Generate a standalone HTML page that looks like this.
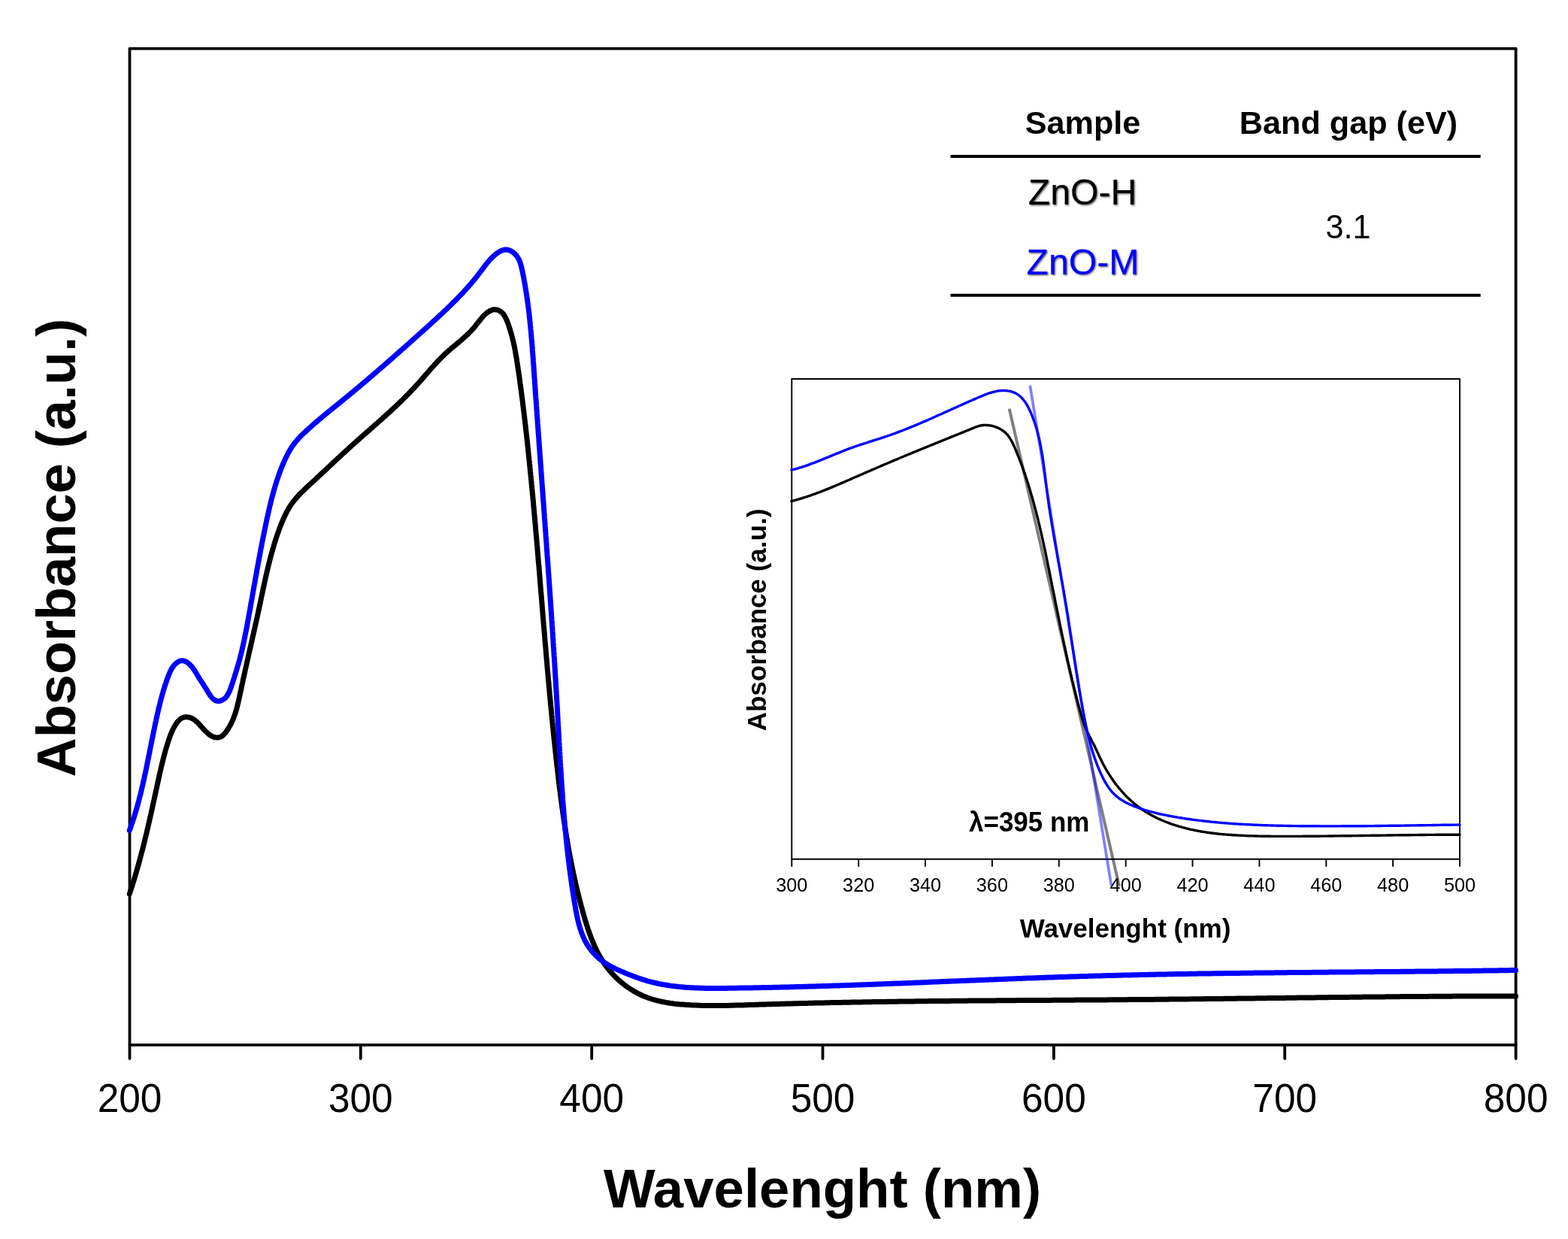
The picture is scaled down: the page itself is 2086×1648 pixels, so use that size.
<!DOCTYPE html>
<html lang="en"><head><meta charset="utf-8"><title>UV-Vis absorbance of ZnO-H and ZnO-M</title>
<style>
html,body{margin:0;padding:0;background:#fff;}
body{width:2086px;height:1648px;overflow:hidden;}
svg{display:block;}
text{font-family:"Liberation Sans", Arial, Helvetica, sans-serif;fill:#000;}
.b{font-weight:bold;}
.c{fill:none;stroke-linejoin:round;stroke-linecap:round;}
</style></head><body>
<svg width="2086" height="1648" viewBox="0 0 2086 1648">
<defs><filter id="sh" x="-10%" y="-20%" width="130%" height="150%"><feDropShadow dx="1.2" dy="1.2" stdDeviation="0.8" flood-color="#000" flood-opacity="0.7"/></filter></defs>
<rect width="2086" height="1648" fill="#fff"/>
<g fill="none" stroke="#000" stroke-width="3.8">
<path d="M172.5 64.6H2016.6V1389.8H172.5Z" stroke-linejoin="round"/>
<g stroke-linecap="round">
<path d="M172.5 1389.8V1408"/>
<path d="M479.8 1389.8V1408"/>
<path d="M787.2 1389.8V1408"/>
<path d="M1094.5 1389.8V1408"/>
<path d="M1401.9 1389.8V1408"/>
<path d="M1709.2 1389.8V1408"/>
<path d="M2016.6 1389.8V1408"/>
</g></g>
<g class="c" stroke-width="7">
<path d="M172.3 1189L173.1 1186.6L173.9 1184.2L174.6 1181.8L175.4 1179.5L176.2 1177.1L176.9 1174.7L177.7 1172.3L178.4 1169.9L179.1 1167.5L179.8 1165.1L180.5 1162.7L181.3 1160.3L181.9 1157.9L182.6 1155.5L183.3 1153.1L184 1150.7L184.7 1148.3L185.3 1145.9L186 1143.5L186.6 1141L187.3 1138.6L187.9 1136.2L188.5 1133.8L189.2 1131.4L189.8 1129L190.4 1126.6L191 1124.1L191.6 1121.7L192.2 1119.3L192.8 1116.9L193.4 1114.4L194 1112L194.6 1109.6L195.2 1107.2L195.7 1104.7L196.3 1102.3L196.9 1099.9L197.4 1097.4L198 1095L198.6 1092.6L199.1 1090.1L199.7 1087.7L200.2 1085.2L200.8 1082.8L201.3 1080.4L201.9 1077.9L202.4 1075.5L202.9 1073L203.5 1070.6L204 1068.1L204.5 1065.7L205.1 1063.2L205.6 1060.8L206.1 1058.3L206.7 1055.9L207.2 1053.4L207.7 1051L208.3 1048.5L208.8 1046.1L209.3 1043.6L209.9 1041.1L210.4 1038.7L210.9 1036.2L211.5 1033.8L212 1031.3L212.5 1028.9L213.1 1026.4L213.7 1024L214.2 1021.5L214.8 1019.1L215.4 1016.6L216 1014.2L216.6 1011.8L217.2 1009.3L217.8 1006.9L218.5 1004.5L219.1 1002.1L219.8 999.7L220.4 997.3L221.1 994.9L221.9 992.5L222.6 990.2L223.3 987.8L224.1 985.4L224.9 983.1L225.7 980.8L226.5 978.4L227.4 976.1L228.4 973.8L229.4 971.5L230.5 969.3L231.7 967L233 964.8L234.4 962.6L236 960.4L237.7 958.5L239.5 956.7L241.5 955.4L243.6 954.4L245.9 953.8L248.2 953.7L250.6 953.9L252.9 954.5L255.2 955.4L257.4 956.6L259.5 958.1L261.4 959.8L263.3 961.5L265.1 963.4L266.8 965.3L268.4 967.1L270 969L271.7 970.8L273.5 972.6L275.3 974.4L277.3 976.1L279.4 977.7L281.6 979.1L283.9 980.1L286.3 980.8L288.6 981.1L291 981L293.1 980.3L295.2 979.2L297 977.7L298.7 975.9L300.4 973.9L301.9 971.8L303.3 969.7L304.6 967.5L305.9 965.4L307.1 963.1L308.2 960.9L309.2 958.6L310.2 956.3L311.1 954L312 951.6L312.8 949.3L313.6 946.9L314.3 944.5L315 942.1L315.6 939.6L316.2 937.2L316.8 934.8L317.4 932.3L318 929.8L318.5 927.4L319 924.9L319.5 922.4L320.1 919.9L320.6 917.5L321.1 915L321.6 912.5L322.2 910.1L322.7 907.6L323.2 905.2L323.7 902.7L324.3 900.3L324.8 897.8L325.4 895.4L325.9 892.9L326.4 890.5L327 888L327.5 885.6L328.1 883.2L328.6 880.7L329.2 878.3L329.7 875.9L330.3 873.4L330.8 871L331.4 868.6L331.9 866.1L332.5 863.7L333 861.3L333.6 858.9L334.1 856.4L334.7 854L335.2 851.6L335.8 849.1L336.3 846.7L336.9 844.3L337.4 841.9L338 839.4L338.5 837L339.1 834.6L339.6 832.1L340.1 829.7L340.7 827.3L341.2 824.9L341.8 822.4L342.3 820L342.8 817.6L343.4 815.1L343.9 812.7L344.4 810.2L344.9 807.8L345.5 805.4L346 802.9L346.5 800.5L347 798L347.5 795.6L348 793.1L348.6 790.7L349.1 788.2L349.6 785.8L350.1 783.3L350.6 780.9L351.2 778.4L351.7 776L352.2 773.5L352.8 771.1L353.3 768.6L353.9 766.2L354.4 763.7L355 761.3L355.6 758.9L356.1 756.4L356.7 754L357.3 751.5L357.9 749.1L358.5 746.7L359.1 744.3L359.8 741.8L360.4 739.4L361.1 737L361.7 734.6L362.4 732.2L363.1 729.8L363.8 727.4L364.5 725L365.2 722.6L366 720.2L366.7 717.8L367.5 715.4L368.3 713L369.1 710.7L369.9 708.3L370.8 705.9L371.6 703.6L372.5 701.2L373.4 698.9L374.3 696.6L375.3 694.2L376.3 691.9L377.3 689.6L378.3 687.3L379.4 685.1L380.5 682.9L381.6 680.6L382.8 678.5L384 676.3L385.3 674.2L386.7 672.1L388.1 670.1L389.5 668.1L391 666.1L392.6 664.2L394.2 662.3L395.9 660.4L397.6 658.5L399.3 656.7L401.1 654.9L402.9 653.2L404.7 651.4L406.5 649.7L408.4 647.9L410.2 646.2L412.1 644.5L413.9 642.8L415.8 641.1L417.7 639.4L419.5 637.7L421.4 635.9L423.2 634.2L425.1 632.5L426.9 630.8L428.7 629.1L430.6 627.4L432.4 625.7L434.2 624L436 622.2L437.9 620.5L439.7 618.8L441.5 617.1L443.3 615.4L445.2 613.7L447 612L448.8 610.3L450.6 608.6L452.5 606.9L454.3 605.2L456.1 603.5L458 601.8L459.8 600.2L461.6 598.5L463.5 596.8L465.3 595.1L467.1 593.4L469 591.8L470.8 590.1L472.7 588.5L474.5 586.8L476.4 585.1L478.3 583.5L480.1 581.8L482 580.2L483.9 578.5L485.7 576.9L487.6 575.3L489.5 573.6L491.4 572L493.2 570.3L495.1 568.7L497 567L498.8 565.4L500.7 563.7L502.6 562.1L504.4 560.4L506.3 558.8L508.2 557.1L510 555.4L511.9 553.8L513.7 552.1L515.6 550.4L517.4 548.8L519.3 547.1L521.1 545.4L522.9 543.7L524.7 542L526.6 540.3L528.4 538.6L530.2 536.8L532 535.1L533.8 533.4L535.6 531.6L537.3 529.9L539.1 528.1L540.9 526.4L542.6 524.6L544.4 522.8L546.1 521L547.8 519.2L549.5 517.4L551.3 515.5L553 513.7L554.6 511.8L556.3 510L558 508.1L559.6 506.2L561.3 504.3L563 502.4L564.6 500.5L566.2 498.7L567.9 496.8L569.5 494.9L571.2 493L572.8 491.1L574.5 489.2L576.2 487.4L577.8 485.5L579.5 483.7L581.2 481.8L582.9 480L584.6 478.2L586.4 476.5L588.1 474.7L589.9 473L591.6 471.3L593.4 469.6L595.3 467.9L597.1 466.3L599 464.7L600.8 463.1L602.7 461.5L604.6 459.9L606.5 458.4L608.4 456.8L610.3 455.2L612.2 453.6L614 452L615.9 450.4L617.8 448.7L619.6 447.1L621.4 445.4L623.2 443.7L625 441.9L626.8 440.1L628.5 438.2L630.2 436.3L631.8 434.4L633.4 432.3L635 430.3L636.6 428.2L638.2 426.2L639.8 424.2L641.5 422.2L643.2 420.3L645 418.5L646.8 416.9L648.8 415.3L650.9 414L653.1 412.9L655.3 412L657.7 411.7L660 411.8L662.3 412.4L664.5 413.4L666.6 414.7L668.4 416.3L669.9 418.1L671.3 420.2L672.5 422.4L673.6 424.7L674.6 427.1L675.5 429.5L676.4 431.9L677.2 434.4L678 436.8L678.8 439.2L679.5 441.7L680.2 444.1L680.9 446.5L681.5 449L682.1 451.4L682.7 453.8L683.3 456.3L683.8 458.7L684.3 461.1L684.8 463.6L685.3 466L685.7 468.5L686.1 470.9L686.6 473.4L687 475.8L687.4 478.2L687.8 480.7L688.1 483.1L688.5 485.6L688.9 488L689.2 490.5L689.6 493L690 495.4L690.3 497.9L690.7 500.3L691 502.8L691.4 505.3L691.7 507.7L692 510.2L692.4 512.7L692.7 515.1L693 517.6L693.4 520.1L693.7 522.6L694 525L694.3 527.5L694.7 530L695 532.5L695.3 534.9L695.6 537.4L695.9 539.9L696.2 542.4L696.5 544.9L696.8 547.4L697.1 549.8L697.4 552.3L697.7 554.8L698 557.3L698.3 559.8L698.6 562.3L698.9 564.8L699.2 567.3L699.4 569.8L699.7 572.2L700 574.7L700.3 577.2L700.6 579.7L700.8 582.2L701.1 584.7L701.4 587.2L701.7 589.7L701.9 592.2L702.2 594.7L702.5 597.2L702.7 599.7L703 602.2L703.2 604.7L703.5 607.2L703.8 609.7L704 612.1L704.3 614.6L704.5 617.1L704.8 619.6L705 622.1L705.3 624.6L705.5 627.1L705.8 629.6L706 632.1L706.3 634.6L706.5 637.1L706.8 639.6L707 642.1L707.2 644.6L707.5 647.1L707.7 649.6L708 652.1L708.2 654.6L708.4 657L708.7 659.5L708.9 662L709.1 664.5L709.4 667L709.6 669.5L709.8 672L710 674.5L710.3 677L710.5 679.5L710.7 682L710.9 684.5L711.2 687L711.4 689.5L711.6 692L711.8 694.5L712.1 697L712.3 699.5L712.5 702L712.7 704.4L712.9 706.9L713.1 709.4L713.4 711.9L713.6 714.4L713.8 716.9L714 719.4L714.2 721.9L714.4 724.4L714.7 726.9L714.9 729.4L715.1 731.9L715.3 734.4L715.5 736.9L715.7 739.4L715.9 741.9L716.1 744.4L716.3 746.9L716.5 749.3L716.8 751.8L717 754.3L717.2 756.8L717.4 759.3L717.6 761.8L717.8 764.3L718 766.8L718.2 769.3L718.4 771.8L718.6 774.3L718.8 776.8L719 779.3L719.2 781.8L719.4 784.3L719.6 786.8L719.8 789.2L720.1 791.7L720.3 794.2L720.5 796.7L720.7 799.2L720.9 801.7L721.1 804.2L721.3 806.7L721.5 809.2L721.7 811.7L721.9 814.2L722.1 816.7L722.3 819.2L722.5 821.7L722.7 824.1L722.9 826.6L723.1 829.1L723.3 831.6L723.6 834.1L723.8 836.6L724 839.1L724.2 841.6L724.4 844.1L724.6 846.6L724.8 849.1L725 851.6L725.2 854L725.4 856.5L725.6 859L725.9 861.5L726.1 864L726.3 866.5L726.5 869L726.7 871.5L726.9 874L727.1 876.5L727.4 879L727.6 881.5L727.8 883.9L728 886.4L728.2 888.9L728.4 891.4L728.7 893.9L728.9 896.4L729.1 898.9L729.3 901.4L729.5 903.9L729.8 906.4L730 908.8L730.2 911.3L730.4 913.8L730.7 916.3L730.9 918.8L731.1 921.3L731.3 923.8L731.6 926.3L731.8 928.8L732 931.2L732.3 933.7L732.5 936.2L732.7 938.7L733 941.2L733.2 943.7L733.5 946.2L733.7 948.7L733.9 951.1L734.2 953.6L734.4 956.1L734.7 958.6L734.9 961.1L735.2 963.6L735.4 966.1L735.7 968.6L735.9 971L736.2 973.5L736.4 976L736.7 978.5L736.9 981L737.2 983.5L737.4 986L737.7 988.4L738 990.9L738.2 993.4L738.5 995.9L738.8 998.4L739 1000.9L739.3 1003.3L739.6 1005.8L739.8 1008.3L740.1 1010.8L740.4 1013.3L740.7 1015.8L740.9 1018.3L741.2 1020.7L741.5 1023.2L741.8 1025.7L742.1 1028.2L742.4 1030.7L742.6 1033.1L742.9 1035.6L743.2 1038.1L743.5 1040.6L743.8 1043.1L744.1 1045.6L744.4 1048L744.8 1050.5L745.1 1053L745.4 1055.5L745.7 1058L746 1060.4L746.3 1062.9L746.7 1065.4L747 1067.9L747.3 1070.3L747.7 1072.8L748 1075.3L748.4 1077.8L748.7 1080.2L749.1 1082.7L749.4 1085.2L749.8 1087.7L750.1 1090.1L750.5 1092.6L750.9 1095.1L751.3 1097.5L751.6 1100L752 1102.5L752.4 1105L752.8 1107.4L753.2 1109.9L753.6 1112.4L754 1114.8L754.4 1117.3L754.9 1119.8L755.3 1122.2L755.7 1124.7L756.1 1127.1L756.6 1129.6L757 1132.1L757.5 1134.5L757.9 1137L758.4 1139.4L758.9 1141.9L759.3 1144.3L759.8 1146.8L760.3 1149.3L760.8 1151.7L761.3 1154.2L761.8 1156.6L762.3 1159.1L762.8 1161.5L763.4 1164L763.9 1166.4L764.4 1168.8L765 1171.3L765.5 1173.7L766.1 1176.2L766.6 1178.6L767.2 1181.1L767.8 1183.5L768.4 1185.9L769 1188.4L769.6 1190.8L770.2 1193.2L770.8 1195.7L771.4 1198.1L772.1 1200.5L772.7 1203L773.3 1205.4L774 1207.8L774.7 1210.3L775.3 1212.7L776 1215.1L776.7 1217.5L777.4 1219.9L778.1 1222.4L778.8 1224.8L779.6 1227.2L780.3 1229.6L781.1 1232L781.8 1234.4L782.6 1236.8L783.4 1239.1L784.3 1241.5L785.1 1243.8L786 1246.2L786.9 1248.5L787.8 1250.8L788.8 1253.2L789.7 1255.4L790.7 1257.7L791.8 1260L792.8 1262.2L793.9 1264.5L795 1266.7L796.2 1268.9L797.4 1271L798.6 1273.2L799.9 1275.3L801.2 1277.4L802.5 1279.5L803.9 1281.6L805.3 1283.6L806.8 1285.6L808.3 1287.6L809.8 1289.6L811.4 1291.5L813.1 1293.4L814.8 1295.3L816.5 1297.1L818.2 1298.9L820 1300.7L821.9 1302.5L823.7 1304.2L825.7 1305.8L827.6 1307.5L829.6 1309L831.6 1310.6L833.6 1312.1L835.7 1313.5L837.8 1315L839.9 1316.3L842 1317.6L844.2 1318.9L846.4 1320.1L848.6 1321.3L850.8 1322.4L853.1 1323.5L855.3 1324.5L857.6 1325.4L859.9 1326.3L862.2 1327.2L864.6 1328L866.9 1328.8L869.3 1329.5L871.6 1330.2L874 1330.8L876.4 1331.4L878.8 1331.9L881.2 1332.5L883.7 1332.9L886.1 1333.4L888.5 1333.8L891 1334.2L893.4 1334.5L895.9 1334.9L898.4 1335.2L900.9 1335.4L903.4 1335.7L905.8 1335.9L908.3 1336.1L910.8 1336.3L913.3 1336.5L915.8 1336.6L918.3 1336.8L920.8 1336.9L923.3 1337L925.8 1337.1L928.3 1337.2L930.8 1337.3L933.3 1337.4L935.8 1337.4L938.3 1337.5L940.8 1337.5L943.3 1337.5L945.8 1337.5L948.3 1337.6L950.8 1337.6L953.3 1337.6L955.8 1337.5L958.3 1337.5L960.8 1337.5L963.3 1337.5L965.9 1337.4L968.4 1337.4L970.9 1337.3L973.4 1337.3L975.9 1337.2L978.4 1337.1L980.9 1337.1L983.4 1337L985.9 1336.9L988.4 1336.9L990.9 1336.8L993.4 1336.7L995.9 1336.6L998.4 1336.5L1000.9 1336.5L1003.4 1336.4L1005.9 1336.3L1008.4 1336.2L1010.9 1336.1L1013.4 1336.1L1015.9 1336L1018.4 1335.9L1020.9 1335.8L1023.4 1335.7L1025.9 1335.7L1028.4 1335.6L1030.9 1335.5L1033.4 1335.4L1035.9 1335.4L1038.4 1335.3L1040.9 1335.2L1043.4 1335.2L1045.9 1335.1L1048.4 1335L1050.9 1335L1053.4 1334.9L1055.9 1334.8L1058.4 1334.8L1060.9 1334.7L1063.4 1334.6L1065.9 1334.6L1068.4 1334.5L1070.9 1334.4L1073.4 1334.4L1075.9 1334.3L1078.4 1334.3L1080.9 1334.2L1083.4 1334.1L1085.9 1334.1L1088.4 1334L1090.9 1334L1093.4 1333.9L1095.9 1333.9L1098.4 1333.8L1100.9 1333.8L1103.4 1333.7L1105.9 1333.6L1108.4 1333.6L1110.9 1333.5L1113.4 1333.5L1115.9 1333.4L1118.5 1333.4L1121 1333.3L1123.5 1333.3L1126 1333.2L1128.5 1333.2L1131 1333.2L1133.5 1333.1L1136 1333.1L1138.5 1333L1141 1333L1143.5 1332.9L1146 1332.9L1148.5 1332.8L1151 1332.8L1153.5 1332.8L1156 1332.7L1158.5 1332.7L1161 1332.6L1163.5 1332.6L1166 1332.6L1168.5 1332.5L1171 1332.5L1173.5 1332.4L1176 1332.4L1178.5 1332.4L1181 1332.3L1183.5 1332.3L1186 1332.3L1188.5 1332.2L1191 1332.2L1193.5 1332.2L1196 1332.1L1198.5 1332.1L1201 1332.1L1203.5 1332L1206 1332L1208.5 1332L1211 1331.9L1213.5 1331.9L1216 1331.9L1218.5 1331.8L1221 1331.8L1223.5 1331.8L1226 1331.7L1228.5 1331.7L1231 1331.7L1233.5 1331.7L1236 1331.6L1238.5 1331.6L1241 1331.6L1243.5 1331.6L1246 1331.5L1248.5 1331.5L1251 1331.5L1253.5 1331.5L1256 1331.4L1258.5 1331.4L1261 1331.4L1263.5 1331.4L1266 1331.3L1268.5 1331.3L1271 1331.3L1273.5 1331.3L1276 1331.2L1278.5 1331.2L1281 1331.2L1283.5 1331.2L1286 1331.2L1288.6 1331.1L1291.1 1331.1L1293.6 1331.1L1296.1 1331.1L1298.6 1331.1L1301.1 1331L1303.6 1331L1306.1 1331L1308.6 1331L1311.1 1331L1313.6 1330.9L1316.1 1330.9L1318.6 1330.9L1321.1 1330.9L1323.6 1330.9L1326.1 1330.8L1328.6 1330.8L1331.1 1330.8L1333.6 1330.8L1336.1 1330.8L1338.6 1330.8L1341.1 1330.7L1343.6 1330.7L1346.1 1330.7L1348.6 1330.7L1351.1 1330.7L1353.6 1330.6L1356.1 1330.6L1358.6 1330.6L1361.1 1330.6L1363.6 1330.6L1366.1 1330.6L1368.6 1330.5L1371.1 1330.5L1373.6 1330.5L1376.1 1330.5L1378.6 1330.5L1381.1 1330.5L1383.6 1330.5L1386.1 1330.4L1388.6 1330.4L1391.1 1330.4L1393.6 1330.4L1396.1 1330.4L1398.6 1330.4L1401.1 1330.3L1403.6 1330.3L1406.1 1330.3L1408.6 1330.3L1411.1 1330.3L1413.6 1330.3L1416.1 1330.2L1418.6 1330.2L1421.1 1330.2L1423.6 1330.2L1426.1 1330.2L1428.6 1330.2L1431.1 1330.1L1433.6 1330.1L1436.1 1330.1L1438.6 1330.1L1441.1 1330.1L1443.6 1330.1L1446.1 1330L1448.6 1330L1451.1 1330L1453.6 1330L1456.1 1330L1458.6 1330L1461.1 1329.9L1463.7 1329.9L1466.2 1329.9L1468.7 1329.9L1471.2 1329.9L1473.7 1329.9L1476.2 1329.8L1478.7 1329.8L1481.2 1329.8L1483.7 1329.8L1486.2 1329.8L1488.7 1329.7L1491.2 1329.7L1493.7 1329.7L1496.2 1329.7L1498.7 1329.7L1501.2 1329.6L1503.7 1329.6L1506.2 1329.6L1508.7 1329.6L1511.2 1329.6L1513.7 1329.5L1516.2 1329.5L1518.7 1329.5L1521.2 1329.5L1523.7 1329.4L1526.2 1329.4L1528.7 1329.4L1531.2 1329.4L1533.7 1329.4L1536.2 1329.3L1538.7 1329.3L1541.2 1329.3L1543.7 1329.3L1546.2 1329.2L1548.7 1329.2L1551.2 1329.2L1553.7 1329.2L1556.2 1329.1L1558.7 1329.1L1561.2 1329.1L1563.7 1329.1L1566.2 1329L1568.7 1329L1571.2 1329L1573.7 1329L1576.2 1328.9L1578.7 1328.9L1581.2 1328.9L1583.7 1328.8L1586.2 1328.8L1588.7 1328.8L1591.2 1328.8L1593.7 1328.7L1596.2 1328.7L1598.7 1328.7L1601.2 1328.7L1603.7 1328.6L1606.2 1328.6L1608.7 1328.6L1611.2 1328.5L1613.7 1328.5L1616.2 1328.5L1618.7 1328.5L1621.2 1328.4L1623.7 1328.4L1626.3 1328.4L1628.8 1328.3L1631.3 1328.3L1633.8 1328.3L1636.3 1328.2L1638.8 1328.2L1641.3 1328.2L1643.8 1328.2L1646.3 1328.1L1648.8 1328.1L1651.3 1328.1L1653.8 1328L1656.3 1328L1658.8 1328L1661.3 1327.9L1663.8 1327.9L1666.3 1327.9L1668.8 1327.9L1671.3 1327.8L1673.8 1327.8L1676.3 1327.8L1678.8 1327.7L1681.3 1327.7L1683.8 1327.7L1686.3 1327.6L1688.8 1327.6L1691.3 1327.6L1693.8 1327.5L1696.3 1327.5L1698.8 1327.5L1701.3 1327.5L1703.8 1327.4L1706.3 1327.4L1708.8 1327.4L1711.3 1327.3L1713.8 1327.3L1716.3 1327.3L1718.8 1327.2L1721.3 1327.2L1723.8 1327.2L1726.3 1327.1L1728.8 1327.1L1731.3 1327.1L1733.8 1327.1L1736.3 1327L1738.8 1327L1741.3 1327L1743.8 1326.9L1746.3 1326.9L1748.8 1326.9L1751.3 1326.8L1753.8 1326.8L1756.3 1326.8L1758.8 1326.8L1761.3 1326.7L1763.8 1326.7L1766.3 1326.7L1768.8 1326.6L1771.3 1326.6L1773.8 1326.6L1776.3 1326.5L1778.8 1326.5L1781.4 1326.5L1783.9 1326.5L1786.4 1326.4L1788.9 1326.4L1791.4 1326.4L1793.9 1326.4L1796.4 1326.3L1798.9 1326.3L1801.4 1326.3L1803.9 1326.2L1806.4 1326.2L1808.9 1326.2L1811.4 1326.2L1813.9 1326.1L1816.4 1326.1L1818.9 1326.1L1821.4 1326.1L1823.9 1326L1826.4 1326L1828.9 1326L1831.4 1326L1833.9 1325.9L1836.4 1325.9L1838.9 1325.9L1841.4 1325.9L1843.9 1325.8L1846.4 1325.8L1848.9 1325.8L1851.4 1325.8L1853.9 1325.7L1856.4 1325.7L1858.9 1325.7L1861.4 1325.7L1863.9 1325.6L1866.4 1325.6L1868.9 1325.6L1871.4 1325.6L1873.9 1325.6L1876.4 1325.5L1878.9 1325.5L1881.4 1325.5L1883.9 1325.5L1886.4 1325.5L1888.9 1325.4L1891.4 1325.4L1893.9 1325.4L1896.4 1325.4L1898.9 1325.4L1901.4 1325.3L1903.9 1325.3L1906.4 1325.3L1908.9 1325.3L1911.4 1325.3L1913.9 1325.3L1916.4 1325.2L1918.9 1325.2L1921.4 1325.2L1923.9 1325.2L1926.4 1325.2L1928.9 1325.2L1931.4 1325.2L1933.9 1325.1L1936.5 1325.1L1939 1325.1L1941.5 1325.1L1944 1325.1L1946.5 1325.1L1949 1325.1L1951.5 1325L1954 1325L1956.5 1325L1959 1325L1961.5 1325L1964 1325L1966.5 1325L1969 1325L1971.5 1325L1974 1325L1976.5 1325L1979 1325L1981.5 1324.9L1984 1324.9L1986.5 1324.9L1989 1324.9L1991.5 1324.9L1994 1324.9L1996.5 1324.9L1999 1324.9L2001.5 1324.9L2004 1324.9L2006.5 1324.9L2009 1324.9L2011.5 1324.9L2014 1324.9L2016.5 1324.9" stroke="#000"/>
<path d="M172.3 1104.5L173.2 1102.1L174 1099.8L174.8 1097.4L175.6 1095.1L176.4 1092.7L177.2 1090.3L178 1087.9L178.7 1085.6L179.5 1083.2L180.2 1080.8L180.9 1078.4L181.6 1076L182.3 1073.6L183 1071.2L183.6 1068.8L184.3 1066.4L184.9 1064L185.5 1061.5L186.2 1059.1L186.8 1056.7L187.4 1054.3L188 1051.8L188.5 1049.4L189.1 1047L189.7 1044.5L190.2 1042.1L190.8 1039.7L191.3 1037.2L191.9 1034.8L192.4 1032.3L192.9 1029.9L193.5 1027.5L194 1025L194.5 1022.6L195 1020.1L195.5 1017.7L196 1015.2L196.5 1012.7L197 1010.3L197.5 1007.8L198 1005.4L198.5 1002.9L199 1000.5L199.4 998L199.9 995.6L200.4 993.1L200.9 990.6L201.4 988.2L201.9 985.7L202.4 983.3L202.9 980.8L203.4 978.4L203.9 975.9L204.4 973.5L204.9 971L205.4 968.6L205.9 966.1L206.4 963.7L206.9 961.2L207.5 958.8L208 956.3L208.5 953.9L209.1 951.4L209.6 949L210.2 946.6L210.7 944.1L211.3 941.7L211.9 939.3L212.5 936.9L213.1 934.4L213.7 932L214.3 929.6L215 927.2L215.7 924.8L216.3 922.4L217 920L217.7 917.6L218.5 915.2L219.2 912.8L220 910.4L220.8 908.1L221.6 905.7L222.4 903.3L223.3 901L224.2 898.6L225.1 896.3L226.1 894L227.2 891.7L228.3 889.5L229.7 887.4L231.2 885.4L232.9 883.5L234.8 881.8L237 880.3L239.3 879.2L241.6 878.7L243.9 878.8L246.2 879.5L248.4 880.6L250.5 882.1L252.4 883.8L254.1 885.6L255.8 887.5L257.3 889.6L258.7 891.6L260.1 893.7L261.4 895.9L262.6 898.1L263.9 900.2L265.2 902.3L266.5 904.4L267.9 906.5L269.2 908.6L270.6 910.6L271.9 912.7L273.3 914.8L274.6 916.9L275.9 919.1L277.2 921.3L278.6 923.5L280 925.6L281.6 927.6L283.4 929.4L285.4 931L287.6 932.1L290 932.5L292.3 932.4L294.6 931.7L296.7 930.7L298.6 929.4L300.3 927.7L301.8 925.8L303.1 923.7L304.3 921.5L305.4 919.1L306.4 916.6L307.3 914L308.2 911.5L309.1 908.9L309.9 906.4L310.7 904L311.5 901.6L312.2 899.2L313 896.9L313.7 894.5L314.4 892.2L315.1 889.9L315.8 887.6L316.5 885.3L317.2 883L317.8 880.7L318.5 878.4L319.1 876L319.7 873.7L320.3 871.3L320.9 868.9L321.5 866.5L322 864.1L322.6 861.7L323.1 859.3L323.7 856.9L324.2 854.4L324.7 852L325.2 849.5L325.7 847.1L326.2 844.6L326.7 842.2L327.2 839.7L327.7 837.2L328.2 834.7L328.7 832.2L329.1 829.7L329.6 827.3L330 824.8L330.5 822.3L330.9 819.8L331.4 817.3L331.8 814.8L332.3 812.3L332.7 809.8L333.2 807.3L333.6 804.8L334 802.3L334.5 799.8L334.9 797.3L335.4 794.9L335.8 792.4L336.2 789.9L336.7 787.4L337.1 784.9L337.5 782.5L338 780L338.4 777.5L338.9 775.1L339.3 772.6L339.7 770.1L340.2 767.7L340.6 765.2L341.1 762.7L341.5 760.3L341.9 757.8L342.4 755.3L342.8 752.9L343.3 750.4L343.7 748L344.2 745.5L344.6 743.1L345.1 740.6L345.6 738.2L346 735.7L346.5 733.3L346.9 730.8L347.4 728.4L347.9 725.9L348.4 723.5L348.8 721L349.3 718.6L349.8 716.1L350.3 713.7L350.8 711.2L351.3 708.8L351.8 706.4L352.3 703.9L352.8 701.5L353.3 699L353.8 696.6L354.3 694.2L354.8 691.7L355.3 689.3L355.9 686.8L356.4 684.4L357 682L357.5 679.5L358.1 677.1L358.6 674.7L359.2 672.2L359.8 669.8L360.4 667.4L361 665L361.6 662.5L362.3 660.1L362.9 657.7L363.6 655.3L364.2 652.9L364.9 650.5L365.6 648.1L366.3 645.7L367.1 643.3L367.8 640.9L368.6 638.5L369.4 636.2L370.2 633.8L371 631.4L371.9 629.1L372.7 626.7L373.6 624.4L374.5 622L375.5 619.7L376.4 617.4L377.4 615.1L378.4 612.8L379.5 610.5L380.6 608.2L381.7 606L382.8 603.7L384 601.5L385.2 599.4L386.5 597.2L387.9 595.1L389.3 593.1L390.7 591.1L392.2 589.1L393.7 587.1L395.4 585.3L397 583.4L398.7 581.6L400.5 579.8L402.2 578.1L404 576.3L405.9 574.6L407.7 572.9L409.5 571.2L411.4 569.6L413.3 567.9L415.1 566.2L417 564.6L418.9 562.9L420.8 561.3L422.7 559.7L424.6 558L426.5 556.4L428.5 554.8L430.4 553.2L432.3 551.6L434.3 550L436.2 548.4L438.1 546.8L440.1 545.3L442 543.7L444 542.1L445.9 540.5L447.9 538.9L449.8 537.3L451.8 535.8L453.7 534.2L455.7 532.6L457.6 531L459.5 529.4L461.5 527.9L463.4 526.3L465.3 524.7L467.2 523.1L469.2 521.5L471.1 519.9L473 518.3L474.9 516.7L476.8 515.1L478.7 513.5L480.6 511.9L482.5 510.3L484.4 508.7L486.3 507.1L488.2 505.5L490.1 503.8L492 502.2L493.9 500.6L495.8 499L497.7 497.4L499.6 495.7L501.5 494.1L503.3 492.5L505.2 490.9L507.1 489.2L509 487.6L510.9 486L512.7 484.3L514.6 482.7L516.5 481.1L518.3 479.4L520.2 477.8L522.1 476.2L523.9 474.5L525.8 472.9L527.7 471.2L529.5 469.6L531.4 467.9L533.3 466.3L535.1 464.6L537 463L538.9 461.3L540.7 459.7L542.6 458L544.5 456.3L546.3 454.7L548.2 453L550 451.4L551.9 449.7L553.8 448L555.6 446.4L557.5 444.7L559.3 443L561.2 441.3L563.1 439.7L564.9 438L566.8 436.3L568.7 434.6L570.5 433L572.4 431.3L574.2 429.6L576.1 427.9L577.9 426.2L579.8 424.5L581.6 422.8L583.5 421.1L585.3 419.4L587.2 417.7L589 416L590.8 414.2L592.6 412.5L594.5 410.8L596.3 409L598.1 407.3L599.8 405.6L601.6 403.8L603.4 402L605.2 400.3L606.9 398.5L608.7 396.7L610.4 394.9L612.1 393.1L613.9 391.3L615.6 389.5L617.3 387.7L619 385.8L620.6 384L622.3 382.1L623.9 380.3L625.6 378.4L627.2 376.5L628.8 374.6L630.4 372.7L631.9 370.8L633.5 368.9L635 367L636.5 365L638 363L639.5 361.1L641 359.1L642.5 357.1L644 355.1L645.5 353.2L647 351.2L648.5 349.3L650.1 347.4L651.8 345.5L653.5 343.6L655.3 341.9L657.2 340.1L659.2 338.4L661.3 336.8L663.5 335.3L665.7 334L668 333L670.4 332.3L672.7 332L675 332.2L677.3 332.8L679.6 333.7L681.7 335L683.7 336.5L685.5 338.3L687.2 340.2L688.7 342.3L689.9 344.4L691 346.6L691.9 348.9L692.7 351.3L693.3 353.7L693.9 356.1L694.5 358.6L695 361.1L695.5 363.5L696 366L696.5 368.5L697 370.9L697.4 373.4L697.9 375.9L698.3 378.3L698.7 380.8L699.1 383.3L699.5 385.8L699.9 388.2L700.3 390.7L700.7 393.2L701.1 395.7L701.4 398.1L701.8 400.6L702.1 403.1L702.4 405.6L702.7 408L703.1 410.5L703.4 413L703.7 415.5L704 418L704.2 420.5L704.5 422.9L704.8 425.4L705 427.9L705.3 430.4L705.5 432.9L705.8 435.4L706 437.8L706.3 440.3L706.5 442.8L706.7 445.3L706.9 447.8L707.1 450.3L707.4 452.8L707.6 455.3L707.8 457.7L708 460.2L708.2 462.7L708.3 465.2L708.5 467.7L708.7 470.2L708.9 472.7L709.1 475.2L709.3 477.7L709.4 480.2L709.6 482.7L709.8 485.2L710 487.6L710.1 490.1L710.3 492.6L710.5 495.1L710.7 497.6L710.8 500.1L711 502.6L711.2 505.1L711.4 507.6L711.5 510.1L711.7 512.6L711.9 515.1L712 517.6L712.2 520.1L712.4 522.6L712.6 525L712.7 527.5L712.9 530L713.1 532.5L713.3 535L713.5 537.5L713.6 540L713.8 542.5L714 545L714.2 547.5L714.3 550L714.5 552.5L714.7 555L714.9 557.5L715.1 560L715.2 562.5L715.4 565L715.6 567.4L715.8 569.9L716 572.4L716.1 574.9L716.3 577.4L716.5 579.9L716.7 582.4L716.9 584.9L717 587.4L717.2 589.9L717.4 592.4L717.6 594.9L717.8 597.4L717.9 599.9L718.1 602.4L718.3 604.9L718.5 607.4L718.7 609.9L718.9 612.4L719 614.9L719.2 617.4L719.4 619.8L719.6 622.3L719.8 624.8L720 627.3L720.1 629.8L720.3 632.3L720.5 634.8L720.7 637.3L720.9 639.8L721 642.3L721.2 644.8L721.4 647.3L721.6 649.8L721.8 652.3L722 654.8L722.1 657.3L722.3 659.8L722.5 662.3L722.7 664.8L722.9 667.3L723.1 669.8L723.2 672.3L723.4 674.8L723.6 677.3L723.8 679.7L724 682.2L724.2 684.7L724.3 687.2L724.5 689.7L724.7 692.2L724.9 694.7L725.1 697.2L725.2 699.7L725.4 702.2L725.6 704.7L725.8 707.2L726 709.7L726.1 712.2L726.3 714.7L726.5 717.2L726.7 719.7L726.9 722.2L727.1 724.7L727.2 727.2L727.4 729.7L727.6 732.2L727.8 734.7L727.9 737.2L728.1 739.7L728.3 742.2L728.5 744.7L728.7 747.2L728.8 749.6L729 752.1L729.2 754.6L729.4 757.1L729.5 759.6L729.7 762.1L729.9 764.6L730.1 767.1L730.3 769.6L730.4 772.1L730.6 774.6L730.8 777.1L731 779.6L731.1 782.1L731.3 784.6L731.5 787.1L731.6 789.6L731.8 792.1L732 794.6L732.2 797.1L732.3 799.6L732.5 802.1L732.7 804.6L732.9 807.1L733 809.6L733.2 812.1L733.4 814.6L733.5 817.1L733.7 819.5L733.9 822L734 824.5L734.2 827L734.4 829.5L734.5 832L734.7 834.5L734.9 837L735 839.5L735.2 842L735.4 844.5L735.5 847L735.7 849.5L735.9 852L736 854.5L736.2 857L736.3 859.5L736.5 862L736.7 864.5L736.8 867L737 869.5L737.1 872L737.3 874.5L737.5 877L737.6 879.5L737.8 882L737.9 884.4L738.1 886.9L738.2 889.4L738.4 891.9L738.5 894.4L738.7 896.9L738.8 899.4L739 901.9L739.1 904.4L739.3 906.9L739.4 909.4L739.6 911.9L739.7 914.4L739.9 916.9L740 919.4L740.2 921.9L740.3 924.4L740.5 926.9L740.6 929.4L740.8 931.9L740.9 934.4L741.1 936.9L741.2 939.3L741.3 941.8L741.5 944.3L741.6 946.8L741.8 949.3L741.9 951.8L742 954.3L742.2 956.8L742.3 959.3L742.4 961.8L742.6 964.3L742.7 966.8L742.9 969.3L743 971.8L743.1 974.3L743.3 976.8L743.4 979.3L743.6 981.8L743.7 984.3L743.8 986.7L744 989.2L744.1 991.7L744.3 994.2L744.4 996.7L744.5 999.2L744.7 1001.7L744.8 1004.2L745 1006.7L745.1 1009.2L745.3 1011.7L745.4 1014.2L745.6 1016.7L745.7 1019.2L745.9 1021.7L746 1024.1L746.2 1026.6L746.3 1029.1L746.5 1031.6L746.7 1034.1L746.8 1036.6L747 1039.1L747.2 1041.6L747.3 1044.1L747.5 1046.6L747.7 1049.1L747.8 1051.6L748 1054.1L748.2 1056.5L748.4 1059L748.6 1061.5L748.7 1064L748.9 1066.5L749.1 1069L749.3 1071.5L749.5 1074L749.7 1076.5L749.9 1079L750.1 1081.5L750.3 1083.9L750.5 1086.4L750.7 1088.9L751 1091.4L751.2 1093.9L751.4 1096.4L751.6 1098.9L751.8 1101.4L752.1 1103.9L752.3 1106.3L752.6 1108.8L752.8 1111.3L753 1113.8L753.3 1116.3L753.5 1118.8L753.8 1121.3L754.1 1123.8L754.3 1126.3L754.6 1128.7L754.9 1131.2L755.1 1133.7L755.4 1136.2L755.7 1138.7L756 1141.2L756.3 1143.7L756.6 1146.2L756.9 1148.6L757.2 1151.1L757.5 1153.6L757.8 1156.1L758.2 1158.6L758.5 1161.1L758.8 1163.6L759.2 1166L759.5 1168.5L759.8 1171L760.2 1173.5L760.5 1176L760.9 1178.5L761.3 1181L761.7 1183.4L762 1185.9L762.4 1188.4L762.8 1190.9L763.2 1193.4L763.6 1195.9L764 1198.3L764.4 1200.8L764.8 1203.3L765.3 1205.8L765.7 1208.3L766.1 1210.7L766.6 1213.2L767.1 1215.7L767.5 1218.2L768.1 1220.6L768.6 1223.1L769.2 1225.5L769.8 1227.9L770.4 1230.3L771.1 1232.7L771.8 1235.1L772.6 1237.4L773.4 1239.8L774.2 1242.1L775.2 1244.4L776.1 1246.6L777.2 1248.9L778.2 1251.1L779.4 1253.3L780.6 1255.4L781.9 1257.6L783.3 1259.6L784.8 1261.7L786.3 1263.7L787.9 1265.7L789.5 1267.6L791.3 1269.4L793 1271.2L794.9 1273L796.7 1274.7L798.7 1276.3L800.6 1277.8L802.6 1279.3L804.7 1280.7L806.8 1282L808.9 1283.3L811.1 1284.6L813.2 1285.8L815.4 1286.9L817.7 1288L819.9 1289.1L822.2 1290.1L824.5 1291.1L826.8 1292.1L829.2 1293.1L831.5 1294.1L833.8 1295L836.2 1296L838.5 1296.9L840.9 1297.8L843.3 1298.7L845.6 1299.6L848 1300.5L850.4 1301.3L852.8 1302.1L855.2 1302.9L857.6 1303.6L860 1304.4L862.4 1305.1L864.8 1305.7L867.2 1306.3L869.7 1306.9L872.1 1307.5L874.5 1308L877 1308.6L879.4 1309L881.8 1309.5L884.3 1309.9L886.7 1310.3L889.2 1310.7L891.7 1311.1L894.1 1311.4L896.6 1311.7L899 1312L901.5 1312.3L904 1312.6L906.5 1312.8L908.9 1313L911.4 1313.2L913.9 1313.4L916.4 1313.5L918.9 1313.7L921.4 1313.8L923.8 1313.9L926.3 1314L928.8 1314.1L931.3 1314.2L933.8 1314.3L936.3 1314.3L938.8 1314.4L941.3 1314.4L943.8 1314.4L946.3 1314.4L948.8 1314.5L951.3 1314.5L953.8 1314.4L956.3 1314.4L958.8 1314.4L961.3 1314.4L963.8 1314.4L966.4 1314.4L968.9 1314.3L971.4 1314.3L973.9 1314.3L976.4 1314.2L978.9 1314.2L981.4 1314.2L983.9 1314.1L986.4 1314.1L988.9 1314.1L991.4 1314L993.9 1314L996.4 1314L998.9 1313.9L1001.4 1313.9L1003.9 1313.8L1006.4 1313.8L1008.9 1313.7L1011.4 1313.7L1013.9 1313.6L1016.4 1313.6L1018.9 1313.5L1021.5 1313.5L1024 1313.4L1026.5 1313.4L1029 1313.3L1031.5 1313.3L1034 1313.2L1036.5 1313.2L1039 1313.1L1041.5 1313L1044 1313L1046.5 1312.9L1049 1312.9L1051.5 1312.8L1054 1312.7L1056.5 1312.7L1059 1312.6L1061.5 1312.5L1064 1312.5L1066.5 1312.4L1069 1312.3L1071.5 1312.3L1074 1312.2L1076.5 1312.1L1079 1312.1L1081.5 1312L1084 1311.9L1086.5 1311.8L1089 1311.8L1091.5 1311.7L1094 1311.6L1096.5 1311.5L1099 1311.4L1101.5 1311.4L1104 1311.3L1106.5 1311.2L1109 1311.1L1111.5 1311L1114 1311L1116.5 1310.9L1119 1310.8L1121.5 1310.7L1124 1310.6L1126.5 1310.5L1129 1310.5L1131.5 1310.4L1134 1310.3L1136.5 1310.2L1139 1310.1L1141.5 1310L1144 1309.9L1146.5 1309.8L1149 1309.7L1151.5 1309.7L1154 1309.6L1156.5 1309.5L1159 1309.4L1161.5 1309.3L1164 1309.2L1166.5 1309.1L1169 1309L1171.5 1308.9L1174 1308.8L1176.5 1308.7L1179 1308.6L1181.5 1308.5L1184 1308.4L1186.5 1308.3L1189 1308.2L1191.5 1308.1L1194 1308L1196.5 1307.9L1199 1307.9L1201.5 1307.8L1204 1307.7L1206.5 1307.6L1209 1307.5L1211.5 1307.4L1214 1307.3L1216.5 1307.2L1219 1307.1L1221.5 1307L1224 1306.9L1226.5 1306.8L1229 1306.7L1231.5 1306.5L1234 1306.4L1236.5 1306.3L1239 1306.2L1241.5 1306.1L1243.9 1306L1246.4 1305.9L1248.9 1305.8L1251.4 1305.7L1253.9 1305.6L1256.4 1305.5L1258.9 1305.4L1261.4 1305.3L1263.9 1305.2L1266.4 1305.1L1268.9 1305L1271.4 1304.9L1273.9 1304.8L1276.4 1304.7L1278.9 1304.6L1281.4 1304.5L1283.9 1304.4L1286.4 1304.3L1288.9 1304.2L1291.4 1304.1L1293.9 1304L1296.4 1303.9L1298.9 1303.8L1301.4 1303.7L1303.9 1303.6L1306.4 1303.5L1308.9 1303.4L1311.4 1303.3L1313.9 1303.2L1316.4 1303.1L1318.9 1303L1321.4 1302.9L1323.9 1302.8L1326.4 1302.7L1328.9 1302.6L1331.4 1302.5L1333.9 1302.4L1336.4 1302.3L1338.9 1302.2L1341.4 1302.1L1343.9 1302L1346.4 1301.9L1348.9 1301.8L1351.4 1301.7L1353.8 1301.6L1356.3 1301.5L1358.8 1301.4L1361.3 1301.3L1363.8 1301.2L1366.3 1301.1L1368.8 1301.1L1371.3 1301L1373.8 1300.9L1376.3 1300.8L1378.8 1300.7L1381.3 1300.6L1383.8 1300.5L1386.3 1300.4L1388.8 1300.3L1391.3 1300.2L1393.8 1300.1L1396.3 1300.1L1398.8 1300L1401.3 1299.9L1403.8 1299.8L1406.3 1299.7L1408.8 1299.6L1411.3 1299.5L1413.8 1299.5L1416.3 1299.4L1418.8 1299.3L1421.3 1299.2L1423.8 1299.1L1426.3 1299L1428.8 1299L1431.3 1298.9L1433.8 1298.8L1436.3 1298.7L1438.8 1298.6L1441.3 1298.6L1443.8 1298.5L1446.3 1298.4L1448.8 1298.3L1451.3 1298.3L1453.8 1298.2L1456.3 1298.1L1458.8 1298.1L1461.3 1298L1463.8 1297.9L1466.3 1297.8L1468.8 1297.8L1471.3 1297.7L1473.8 1297.6L1476.3 1297.6L1478.8 1297.5L1481.3 1297.4L1483.8 1297.4L1486.3 1297.3L1488.8 1297.2L1491.3 1297.2L1493.8 1297.1L1496.3 1297.1L1498.8 1297L1501.3 1296.9L1503.8 1296.9L1506.3 1296.8L1508.8 1296.8L1511.3 1296.7L1513.8 1296.7L1516.3 1296.6L1518.8 1296.5L1521.3 1296.5L1523.8 1296.4L1526.3 1296.4L1528.8 1296.3L1531.3 1296.3L1533.8 1296.2L1536.3 1296.2L1538.8 1296.1L1541.3 1296.1L1543.8 1296L1546.3 1296L1548.8 1295.9L1551.3 1295.9L1553.8 1295.8L1556.3 1295.8L1558.8 1295.7L1561.3 1295.7L1563.8 1295.6L1566.3 1295.6L1568.8 1295.6L1571.3 1295.5L1573.8 1295.5L1576.3 1295.4L1578.8 1295.4L1581.3 1295.3L1583.8 1295.3L1586.3 1295.3L1588.8 1295.2L1591.3 1295.2L1593.8 1295.1L1596.3 1295.1L1598.8 1295.1L1601.3 1295L1603.8 1295L1606.3 1294.9L1608.8 1294.9L1611.3 1294.9L1613.8 1294.8L1616.3 1294.8L1618.8 1294.8L1621.3 1294.7L1623.8 1294.7L1626.3 1294.7L1628.8 1294.6L1631.3 1294.6L1633.8 1294.6L1636.3 1294.5L1638.8 1294.5L1641.3 1294.5L1643.8 1294.4L1646.3 1294.4L1648.8 1294.4L1651.3 1294.3L1653.8 1294.3L1656.4 1294.3L1658.9 1294.2L1661.4 1294.2L1663.9 1294.2L1666.4 1294.2L1668.9 1294.1L1671.4 1294.1L1673.9 1294.1L1676.4 1294L1678.9 1294L1681.4 1294L1683.9 1294L1686.4 1293.9L1688.9 1293.9L1691.4 1293.9L1693.9 1293.9L1696.4 1293.8L1698.9 1293.8L1701.4 1293.8L1703.9 1293.7L1706.4 1293.7L1708.9 1293.7L1711.4 1293.7L1713.9 1293.6L1716.4 1293.6L1718.9 1293.6L1721.4 1293.6L1723.9 1293.6L1726.4 1293.5L1728.9 1293.5L1731.4 1293.5L1733.9 1293.5L1736.4 1293.4L1738.9 1293.4L1741.4 1293.4L1743.9 1293.4L1746.4 1293.3L1748.9 1293.3L1751.4 1293.3L1753.9 1293.3L1756.4 1293.3L1758.9 1293.2L1761.4 1293.2L1763.9 1293.2L1766.4 1293.2L1768.9 1293.1L1771.4 1293.1L1773.9 1293.1L1776.4 1293.1L1778.9 1293.1L1781.4 1293L1783.9 1293L1786.4 1293L1789 1293L1791.5 1293L1794 1292.9L1796.5 1292.9L1799 1292.9L1801.5 1292.9L1804 1292.8L1806.5 1292.8L1809 1292.8L1811.5 1292.8L1814 1292.8L1816.5 1292.7L1819 1292.7L1821.5 1292.7L1824 1292.7L1826.5 1292.7L1829 1292.6L1831.5 1292.6L1834 1292.6L1836.5 1292.6L1839 1292.6L1841.5 1292.5L1844 1292.5L1846.5 1292.5L1849 1292.5L1851.5 1292.4L1854 1292.4L1856.5 1292.4L1859 1292.4L1861.5 1292.4L1864 1292.3L1866.5 1292.3L1869 1292.3L1871.5 1292.3L1874 1292.2L1876.5 1292.2L1879 1292.2L1881.5 1292.2L1884 1292.1L1886.5 1292.1L1889 1292.1L1891.5 1292.1L1894 1292L1896.5 1292L1899 1292L1901.5 1292L1904 1291.9L1906.5 1291.9L1909 1291.9L1911.5 1291.9L1914 1291.8L1916.5 1291.8L1919 1291.8L1921.5 1291.8L1924 1291.7L1926.5 1291.7L1929 1291.7L1931.5 1291.7L1934 1291.6L1936.5 1291.6L1939 1291.6L1941.5 1291.5L1944 1291.5L1946.5 1291.5L1949 1291.4L1951.5 1291.4L1954 1291.4L1956.5 1291.4L1959 1291.3L1961.5 1291.3L1964 1291.3L1966.5 1291.2L1969 1291.2L1971.5 1291.2L1974 1291.1L1976.5 1291.1L1979 1291.1L1981.5 1291L1984 1291L1986.5 1291L1989 1290.9L1991.5 1290.9L1994 1290.8L1996.5 1290.8L1999 1290.8L2001.5 1290.7L2004 1290.7L2006.5 1290.7L2009 1290.6L2011.5 1290.6L2014 1290.5L2016.5 1290.5" stroke="#0000ff"/>
</g>
<text transform="translate(172.5 1478.6) scale(1 1.04)" font-size="51.4" text-anchor="middle">200</text>
<text transform="translate(479.8 1478.6) scale(1 1.04)" font-size="51.4" text-anchor="middle">300</text>
<text transform="translate(787.2 1478.6) scale(1 1.04)" font-size="51.4" text-anchor="middle">400</text>
<text transform="translate(1094.5 1478.6) scale(1 1.04)" font-size="51.4" text-anchor="middle">500</text>
<text transform="translate(1401.9 1478.6) scale(1 1.04)" font-size="51.4" text-anchor="middle">600</text>
<text transform="translate(1709.2 1478.6) scale(1 1.04)" font-size="51.4" text-anchor="middle">700</text>
<text transform="translate(2016.6 1478.6) scale(1 1.04)" font-size="51.4" text-anchor="middle">800</text>
<text class="b" transform="translate(1094 1606)" font-size="72.6" text-anchor="middle">Wavelenght (nm)</text>
<text class="b" transform="translate(100.3 728.6) rotate(-90)" font-size="72.2" text-anchor="middle">Absorbance (a.u.)</text>
<g stroke="#000" stroke-width="4"><path d="M1264.5 208H1969.7"/><path d="M1264.5 392.7H1969.7"/></g>
<text class="b" transform="translate(1440.5 177.8)" font-size="43.2" text-anchor="middle">Sample</text>
<text class="b" transform="translate(1794 177.8)" font-size="43.2" text-anchor="middle">Band gap (eV)</text>
<text transform="translate(1440.1 272.2) scale(1 1.015)" font-size="48.2" text-anchor="middle" filter="url(#sh)">ZnO-H</text>
<text transform="translate(1440.5 365.3) scale(1 1.015)" font-size="48.2" text-anchor="middle" filter="url(#sh)" style="fill:#0000ff">ZnO-M</text>
<text transform="translate(1793.5 316.6) scale(1 1.04)" font-size="43.2" text-anchor="middle">3.1</text>
<g fill="none" stroke="#000" stroke-width="1.9">
<path d="M1053.3 504H1942V1142.8H1053.3Z"/>
<path d="M1053.3 1142.8V1152.8"/>
<path d="M1142.2 1142.8V1152.8"/>
<path d="M1231.0 1142.8V1152.8"/>
<path d="M1319.9 1142.8V1152.8"/>
<path d="M1408.8 1142.8V1152.8"/>
<path d="M1497.7 1142.8V1152.8"/>
<path d="M1586.5 1142.8V1152.8"/>
<path d="M1675.4 1142.8V1152.8"/>
<path d="M1764.3 1142.8V1152.8"/>
<path d="M1853.1 1142.8V1152.8"/>
<path d="M1942.0 1142.8V1152.8"/>
</g>
<g class="c" stroke-width="3.4">
<path d="M1053 666.6L1055 666.1L1056.9 665.6L1058.8 665L1060.8 664.5L1062.7 663.9L1064.6 663.4L1066.5 662.8L1068.5 662.2L1070.4 661.6L1072.3 661L1074.2 660.3L1076.1 659.7L1078 659.1L1079.9 658.4L1081.7 657.7L1083.6 657.1L1085.5 656.4L1087.4 655.7L1089.2 655L1091.1 654.3L1093 653.6L1094.8 652.8L1096.7 652.1L1098.5 651.4L1100.4 650.6L1102.2 649.9L1104.1 649.1L1105.9 648.4L1107.8 647.6L1109.6 646.8L1111.5 646.1L1113.3 645.3L1115.1 644.5L1117 643.7L1118.8 642.9L1120.6 642.2L1122.5 641.4L1124.3 640.6L1126.1 639.8L1128 639L1129.8 638.2L1131.6 637.4L1133.5 636.6L1135.3 635.8L1137.1 635L1138.9 634.2L1140.8 633.4L1142.6 632.6L1144.4 631.8L1146.3 631L1148.1 630.2L1149.9 629.4L1151.8 628.6L1153.6 627.8L1155.4 627L1157.2 626.2L1159.1 625.4L1160.9 624.6L1162.7 623.8L1164.6 623.1L1166.4 622.3L1168.2 621.5L1170.1 620.7L1171.9 619.9L1173.7 619.1L1175.6 618.3L1177.4 617.5L1179.2 616.8L1181.1 616L1182.9 615.2L1184.7 614.4L1186.6 613.6L1188.4 612.9L1190.2 612.1L1192.1 611.3L1193.9 610.6L1195.8 609.8L1197.6 609L1199.4 608.2L1201.3 607.5L1203.1 606.7L1205 605.9L1206.8 605.2L1208.6 604.4L1210.5 603.7L1212.3 602.9L1214.2 602.1L1216 601.4L1217.9 600.6L1219.7 599.9L1221.5 599.1L1223.4 598.4L1225.2 597.6L1227.1 596.9L1228.9 596.1L1230.8 595.3L1232.6 594.6L1234.5 593.8L1236.3 593.1L1238.2 592.3L1240 591.6L1241.8 590.8L1243.7 590.1L1245.5 589.3L1247.4 588.6L1249.2 587.8L1251.1 587.1L1252.9 586.3L1254.8 585.6L1256.6 584.8L1258.5 584.1L1260.3 583.3L1262.2 582.6L1264 581.8L1265.9 581.1L1267.7 580.3L1269.6 579.6L1271.4 578.8L1273.3 578.1L1275.1 577.3L1277 576.6L1278.8 575.8L1280.7 575.1L1282.5 574.3L1284.4 573.6L1286.2 572.8L1288.1 572.1L1289.9 571.3L1291.8 570.6L1293.6 569.8L1295.5 569.1L1297.3 568.3L1299.2 567.6L1301.1 567L1302.9 566.4L1304.8 566L1306.7 565.7L1308.7 565.5L1310.6 565.5L1312.6 565.5L1314.5 565.6L1316.5 565.9L1318.5 566.2L1320.4 566.7L1322.4 567.2L1324.4 567.9L1326.3 568.6L1328.3 569.4L1330.1 570.3L1331.9 571.4L1333.6 572.5L1335.3 573.6L1336.8 574.9L1338.3 576.3L1339.6 577.7L1340.9 579.2L1342.1 580.7L1343.2 582.3L1344.2 584L1345.2 585.7L1346.2 587.4L1347.1 589.2L1348 591L1348.8 592.8L1349.6 594.7L1350.4 596.5L1351.2 598.4L1352 600.2L1352.7 602.1L1353.5 603.9L1354.2 605.8L1355 607.7L1355.7 609.5L1356.4 611.4L1357.2 613.3L1357.9 615.2L1358.6 617L1359.3 618.9L1360 620.8L1360.6 622.7L1361.3 624.6L1362 626.5L1362.7 628.3L1363.3 630.2L1364 632.1L1364.6 634L1365.2 635.9L1365.9 637.8L1366.5 639.7L1367.1 641.6L1367.7 643.5L1368.3 645.4L1368.9 647.4L1369.5 649.3L1370.1 651.2L1370.6 653.1L1371.2 655L1371.8 656.9L1372.3 658.8L1372.9 660.8L1373.4 662.7L1374 664.6L1374.5 666.5L1375.1 668.5L1375.6 670.4L1376.1 672.3L1376.6 674.2L1377.1 676.2L1377.6 678.1L1378.1 680L1378.6 682L1379.1 683.9L1379.6 685.9L1380.1 687.8L1380.6 689.7L1381.1 691.7L1381.6 693.6L1382 695.6L1382.5 697.5L1383 699.5L1383.4 701.4L1383.9 703.4L1384.3 705.3L1384.8 707.3L1385.2 709.2L1385.7 711.2L1386.1 713.1L1386.5 715.1L1387 717L1387.4 719L1387.8 720.9L1388.3 722.9L1388.7 724.9L1389.1 726.8L1389.5 728.8L1390 730.7L1390.4 732.7L1390.8 734.6L1391.2 736.6L1391.6 738.6L1392 740.5L1392.4 742.5L1392.8 744.5L1393.2 746.4L1393.6 748.4L1394 750.3L1394.4 752.3L1394.8 754.3L1395.2 756.2L1395.6 758.2L1396 760.2L1396.4 762.1L1396.8 764.1L1397.2 766.1L1397.6 768L1398 770L1398.4 772L1398.8 773.9L1399.1 775.9L1399.5 777.9L1399.9 779.8L1400.3 781.8L1400.7 783.8L1401.1 785.7L1401.5 787.7L1401.9 789.6L1402.3 791.6L1402.7 793.6L1403.1 795.5L1403.5 797.5L1403.8 799.5L1404.2 801.4L1404.6 803.4L1405 805.4L1405.4 807.3L1405.8 809.3L1406.2 811.3L1406.6 813.2L1407 815.2L1407.4 817.1L1407.8 819.1L1408.2 821.1L1408.6 823L1409 825L1409.4 827L1409.8 828.9L1410.2 830.9L1410.6 832.8L1411 834.8L1411.4 836.8L1411.8 838.7L1412.2 840.7L1412.6 842.6L1413.1 844.6L1413.5 846.5L1413.9 848.5L1414.3 850.5L1414.7 852.4L1415.1 854.4L1415.5 856.3L1416 858.3L1416.4 860.2L1416.8 862.2L1417.2 864.1L1417.7 866.1L1418.1 868.1L1418.5 870L1418.9 872L1419.4 873.9L1419.8 875.9L1420.2 877.8L1420.7 879.8L1421.1 881.7L1421.6 883.7L1422 885.6L1422.4 887.6L1422.9 889.5L1423.3 891.5L1423.8 893.4L1424.2 895.3L1424.7 897.3L1425.2 899.2L1425.6 901.2L1426.1 903.1L1426.5 905.1L1427 907L1427.5 908.9L1428 910.9L1428.4 912.8L1428.9 914.8L1429.4 916.7L1429.9 918.6L1430.3 920.6L1430.8 922.5L1431.3 924.4L1431.8 926.4L1432.3 928.3L1432.8 930.3L1433.3 932.2L1433.8 934.1L1434.3 936L1434.8 938L1435.3 939.9L1435.9 941.8L1436.4 943.8L1436.9 945.7L1437.4 947.6L1438 949.5L1438.5 951.4L1439.1 953.4L1439.7 955.3L1440.2 957.2L1440.9 959.1L1441.5 961L1442.2 962.8L1442.8 964.7L1443.6 966.6L1444.3 968.4L1445.1 970.3L1445.9 972.1L1446.7 973.9L1447.6 975.7L1448.5 977.5L1449.4 979.3L1450.3 981.1L1451.3 982.9L1452.2 984.7L1453.1 986.5L1454.1 988.2L1455 990L1455.9 991.8L1456.7 993.6L1457.6 995.4L1458.5 997.2L1459.3 999L1460.1 1000.8L1461 1002.6L1461.8 1004.4L1462.6 1006.2L1463.5 1008L1464.3 1009.8L1465.2 1011.6L1466.1 1013.4L1467 1015.2L1467.9 1017L1468.9 1018.7L1469.8 1020.5L1470.8 1022.2L1471.8 1024L1472.8 1025.7L1473.9 1027.4L1474.9 1029.1L1476 1030.8L1477.1 1032.5L1478.2 1034.2L1479.3 1035.8L1480.5 1037.5L1481.6 1039.1L1482.8 1040.8L1484 1042.4L1485.2 1044L1486.5 1045.5L1487.7 1047.1L1489 1048.7L1490.3 1050.2L1491.6 1051.7L1492.9 1053.2L1494.3 1054.7L1495.6 1056.2L1497 1057.6L1498.4 1059.1L1499.8 1060.5L1501.3 1061.9L1502.7 1063.3L1504.2 1064.6L1505.7 1066L1507.2 1067.3L1508.7 1068.6L1510.2 1069.9L1511.8 1071.1L1513.4 1072.3L1515 1073.5L1516.6 1074.7L1518.2 1075.9L1519.8 1077L1521.5 1078.1L1523.2 1079.2L1524.9 1080.3L1526.6 1081.3L1528.3 1082.3L1530 1083.3L1531.8 1084.3L1533.6 1085.2L1535.3 1086.1L1537.1 1087L1538.9 1087.9L1540.7 1088.8L1542.6 1089.6L1544.4 1090.4L1546.2 1091.2L1548.1 1092L1549.9 1092.8L1551.8 1093.5L1553.7 1094.2L1555.5 1094.9L1557.4 1095.6L1559.3 1096.3L1561.2 1096.9L1563.1 1097.5L1565 1098.1L1566.9 1098.7L1568.8 1099.3L1570.8 1099.8L1572.7 1100.4L1574.6 1100.9L1576.5 1101.4L1578.5 1101.9L1580.4 1102.4L1582.4 1102.8L1584.3 1103.3L1586.3 1103.7L1588.2 1104.1L1590.2 1104.5L1592.1 1104.9L1594.1 1105.3L1596.1 1105.6L1598 1106L1600 1106.3L1602 1106.6L1604 1106.9L1605.9 1107.2L1607.9 1107.5L1609.9 1107.8L1611.9 1108L1613.9 1108.3L1615.9 1108.5L1617.9 1108.7L1619.9 1109L1621.8 1109.2L1623.8 1109.4L1625.8 1109.6L1627.8 1109.7L1629.8 1109.9L1631.8 1110.1L1633.9 1110.2L1635.9 1110.4L1637.9 1110.5L1639.9 1110.7L1641.9 1110.8L1643.9 1110.9L1645.9 1111L1647.9 1111.1L1649.9 1111.2L1651.9 1111.3L1653.9 1111.4L1655.9 1111.5L1657.9 1111.6L1659.9 1111.7L1661.9 1111.7L1663.9 1111.8L1665.9 1111.9L1667.9 1111.9L1669.9 1112L1671.9 1112L1673.9 1112.1L1675.9 1112.1L1677.9 1112.2L1679.9 1112.2L1681.9 1112.2L1683.9 1112.3L1685.9 1112.3L1687.9 1112.3L1689.9 1112.3L1691.9 1112.4L1693.9 1112.4L1695.9 1112.4L1697.9 1112.4L1699.9 1112.4L1701.9 1112.4L1703.9 1112.4L1705.9 1112.4L1707.9 1112.4L1709.9 1112.4L1711.9 1112.4L1713.9 1112.4L1715.9 1112.4L1717.9 1112.4L1719.9 1112.4L1721.9 1112.4L1723.9 1112.4L1725.9 1112.4L1727.9 1112.4L1729.9 1112.4L1731.9 1112.4L1733.9 1112.3L1735.9 1112.3L1737.9 1112.3L1739.9 1112.3L1741.9 1112.3L1743.9 1112.3L1745.9 1112.3L1747.9 1112.2L1749.9 1112.2L1751.9 1112.2L1753.9 1112.2L1755.9 1112.2L1757.9 1112.1L1759.9 1112.1L1761.9 1112.1L1763.9 1112.1L1765.9 1112.1L1767.9 1112L1769.9 1112L1771.9 1112L1773.9 1112L1775.9 1111.9L1777.9 1111.9L1779.9 1111.9L1781.9 1111.9L1783.9 1111.8L1785.9 1111.8L1787.9 1111.8L1789.9 1111.8L1791.9 1111.7L1793.9 1111.7L1795.9 1111.7L1797.9 1111.7L1799.9 1111.6L1801.9 1111.6L1803.9 1111.6L1805.9 1111.6L1807.9 1111.5L1809.9 1111.5L1811.9 1111.5L1813.9 1111.5L1815.9 1111.4L1817.9 1111.4L1819.9 1111.4L1821.9 1111.4L1823.9 1111.3L1825.9 1111.3L1827.9 1111.3L1829.9 1111.2L1831.9 1111.2L1833.9 1111.2L1835.9 1111.2L1837.9 1111.1L1839.9 1111.1L1841.9 1111.1L1843.9 1111.1L1846 1111L1848 1111L1850 1111L1852 1111L1854 1110.9L1856 1110.9L1858 1110.9L1860 1110.9L1862 1110.8L1864 1110.8L1866 1110.8L1868 1110.8L1870 1110.7L1872 1110.7L1874 1110.7L1876 1110.7L1878 1110.6L1880 1110.6L1882 1110.6L1884 1110.6L1886 1110.6L1888 1110.5L1890 1110.5L1892 1110.5L1894 1110.5L1896 1110.5L1898 1110.4L1900 1110.4L1902 1110.4L1904 1110.4L1906 1110.4L1908 1110.4L1910 1110.3L1912 1110.3L1914 1110.3L1916 1110.3L1918 1110.3L1920 1110.3L1922 1110.3L1924 1110.3L1926 1110.3L1928 1110.2L1930 1110.2L1932 1110.2L1934 1110.2L1936 1110.2L1938 1110.2L1940 1110.2L1942 1110.2" stroke="#000"/>
<path d="M1053 625.2L1055 624.7L1056.9 624.2L1058.9 623.6L1060.8 623.1L1062.7 622.5L1064.7 621.9L1066.6 621.3L1068.5 620.7L1070.4 620.1L1072.3 619.4L1074.2 618.8L1076 618.1L1077.9 617.4L1079.8 616.7L1081.7 616L1083.5 615.3L1085.4 614.6L1087.3 613.9L1089.1 613.1L1091 612.4L1092.8 611.6L1094.7 610.9L1096.5 610.1L1098.4 609.4L1100.2 608.6L1102 607.9L1103.9 607.1L1105.7 606.4L1107.6 605.6L1109.4 604.8L1111.3 604.1L1113.1 603.3L1115 602.6L1116.8 601.8L1118.7 601.1L1120.5 600.3L1122.4 599.6L1124.2 598.9L1126.1 598.2L1128 597.4L1129.9 596.7L1131.7 596L1133.6 595.4L1135.5 594.7L1137.4 594L1139.3 593.4L1141.2 592.7L1143.1 592.1L1145 591.4L1146.9 590.8L1148.9 590.2L1150.8 589.6L1152.7 589L1154.6 588.3L1156.5 587.7L1158.4 587.1L1160.4 586.5L1162.3 585.9L1164.2 585.3L1166.1 584.7L1168 584.1L1170 583.4L1171.9 582.8L1173.8 582.2L1175.7 581.6L1177.6 580.9L1179.5 580.3L1181.4 579.6L1183.3 579L1185.2 578.3L1187.1 577.6L1189 577L1190.8 576.3L1192.7 575.6L1194.6 574.9L1196.5 574.2L1198.3 573.5L1200.2 572.8L1202 572L1203.9 571.3L1205.7 570.6L1207.6 569.8L1209.4 569.1L1211.3 568.4L1213.1 567.6L1215 566.9L1216.8 566.1L1218.7 565.3L1220.5 564.6L1222.3 563.8L1224.2 563L1226 562.2L1227.8 561.4L1229.6 560.7L1231.5 559.9L1233.3 559.1L1235.1 558.3L1236.9 557.5L1238.8 556.7L1240.6 555.9L1242.4 555.1L1244.2 554.2L1246 553.4L1247.8 552.6L1249.7 551.8L1251.5 551L1253.3 550.2L1255.1 549.4L1256.9 548.5L1258.7 547.7L1260.6 546.9L1262.4 546.1L1264.2 545.3L1266 544.4L1267.8 543.6L1269.7 542.8L1271.5 542L1273.3 541.2L1275.1 540.3L1277 539.5L1278.8 538.7L1280.6 537.9L1282.4 537.1L1284.3 536.2L1286.1 535.4L1287.9 534.6L1289.8 533.8L1291.6 533L1293.5 532.2L1295.3 531.4L1297.2 530.6L1299 529.8L1300.9 529L1302.7 528.2L1304.6 527.4L1306.4 526.6L1308.3 525.9L1310.2 525.1L1312.1 524.4L1313.9 523.7L1315.8 523L1317.8 522.4L1319.7 521.8L1321.7 521.3L1323.6 520.8L1325.6 520.4L1327.7 520L1329.7 519.8L1331.8 519.6L1333.8 519.5L1335.9 519.5L1338 519.6L1340 519.8L1342.1 520.1L1344 520.5L1346 521L1347.8 521.6L1349.6 522.3L1351.3 523.1L1353 524.1L1354.6 525.1L1356.1 526.3L1357.5 527.5L1358.9 528.8L1360.2 530.2L1361.4 531.7L1362.6 533.2L1363.8 534.8L1364.9 536.4L1365.9 538.1L1366.9 539.9L1367.9 541.7L1368.8 543.5L1369.7 545.3L1370.6 547.2L1371.4 549.1L1372.2 551L1373 552.8L1373.7 554.7L1374.4 556.6L1375.1 558.5L1375.8 560.5L1376.5 562.4L1377.1 564.3L1377.7 566.2L1378.3 568.1L1378.9 570.1L1379.5 572L1380 573.9L1380.5 575.9L1381 577.8L1381.5 579.7L1382 581.7L1382.5 583.6L1382.9 585.6L1383.3 587.5L1383.7 589.5L1384.1 591.4L1384.5 593.4L1384.9 595.4L1385.2 597.3L1385.6 599.3L1385.9 601.3L1386.3 603.2L1386.6 605.2L1386.9 607.2L1387.2 609.2L1387.5 611.1L1387.8 613.1L1388 615.1L1388.3 617.1L1388.6 619.1L1388.8 621.1L1389.1 623L1389.4 625L1389.6 627L1389.9 629L1390.1 631L1390.3 633L1390.6 635L1390.8 637L1391.1 638.9L1391.3 640.9L1391.5 642.9L1391.8 644.9L1392 646.9L1392.3 648.9L1392.5 650.9L1392.8 652.9L1393 654.8L1393.3 656.8L1393.6 658.8L1393.8 660.8L1394.1 662.8L1394.4 664.8L1394.7 666.8L1394.9 668.7L1395.2 670.7L1395.5 672.7L1395.8 674.7L1396.1 676.7L1396.4 678.6L1396.7 680.6L1397 682.6L1397.3 684.6L1397.6 686.6L1397.9 688.5L1398.3 690.5L1398.6 692.5L1398.9 694.5L1399.2 696.5L1399.6 698.4L1399.9 700.4L1400.2 702.4L1400.5 704.4L1400.9 706.3L1401.2 708.3L1401.5 710.3L1401.9 712.3L1402.2 714.2L1402.6 716.2L1402.9 718.2L1403.3 720.2L1403.6 722.1L1404 724.1L1404.3 726.1L1404.7 728.1L1405 730L1405.4 732L1405.7 734L1406.1 735.9L1406.4 737.9L1406.8 739.9L1407.1 741.9L1407.5 743.8L1407.8 745.8L1408.2 747.8L1408.5 749.8L1408.9 751.7L1409.3 753.7L1409.6 755.7L1410 757.6L1410.3 759.6L1410.7 761.6L1411 763.6L1411.4 765.5L1411.7 767.5L1412.1 769.5L1412.4 771.4L1412.8 773.4L1413.1 775.4L1413.5 777.4L1413.8 779.3L1414.2 781.3L1414.5 783.3L1414.9 785.3L1415.2 787.2L1415.6 789.2L1415.9 791.2L1416.2 793.2L1416.6 795.1L1416.9 797.1L1417.2 799.1L1417.6 801.1L1417.9 803L1418.2 805L1418.6 807L1418.9 809L1419.2 810.9L1419.5 812.9L1419.8 814.9L1420.2 816.9L1420.5 818.8L1420.8 820.8L1421.1 822.8L1421.4 824.8L1421.7 826.8L1422 828.7L1422.3 830.7L1422.6 832.7L1422.9 834.7L1423.2 836.6L1423.5 838.6L1423.8 840.6L1424.1 842.6L1424.5 844.6L1424.8 846.5L1425.1 848.5L1425.4 850.5L1425.7 852.5L1426 854.5L1426.3 856.4L1426.6 858.4L1426.9 860.4L1427.2 862.4L1427.5 864.4L1427.8 866.3L1428.1 868.3L1428.4 870.3L1428.7 872.3L1429 874.2L1429.3 876.2L1429.6 878.2L1429.9 880.2L1430.2 882.2L1430.5 884.1L1430.8 886.1L1431.1 888.1L1431.4 890.1L1431.7 892L1432 894L1432.3 896L1432.7 898L1433 900L1433.3 901.9L1433.6 903.9L1433.9 905.9L1434.2 907.9L1434.6 909.8L1434.9 911.8L1435.2 913.8L1435.6 915.8L1435.9 917.7L1436.2 919.7L1436.6 921.7L1436.9 923.7L1437.2 925.6L1437.6 927.6L1437.9 929.6L1438.3 931.5L1438.6 933.5L1439 935.5L1439.4 937.5L1439.7 939.4L1440.1 941.4L1440.4 943.4L1440.8 945.3L1441.2 947.3L1441.6 949.3L1441.9 951.2L1442.3 953.2L1442.7 955.2L1443.1 957.1L1443.5 959.1L1443.9 961.1L1444.3 963L1444.7 965L1445.1 967L1445.6 968.9L1446 970.9L1446.4 972.8L1446.9 974.8L1447.3 976.7L1447.8 978.7L1448.3 980.6L1448.8 982.6L1449.3 984.5L1449.8 986.4L1450.3 988.4L1450.8 990.3L1451.3 992.2L1451.9 994.2L1452.4 996.1L1453 998L1453.6 999.9L1454.2 1001.8L1454.8 1003.7L1455.4 1005.6L1456 1007.5L1456.7 1009.4L1457.4 1011.3L1458.1 1013.2L1458.8 1015.1L1459.5 1017L1460.2 1018.8L1461 1020.7L1461.7 1022.5L1462.5 1024.4L1463.3 1026.2L1464.1 1028.1L1465 1029.9L1465.9 1031.7L1466.7 1033.6L1467.7 1035.4L1468.6 1037.2L1469.5 1038.9L1470.5 1040.7L1471.6 1042.4L1472.6 1044.1L1473.7 1045.8L1474.8 1047.4L1476 1049.1L1477.2 1050.6L1478.5 1052.2L1479.7 1053.7L1481.1 1055.1L1482.5 1056.5L1483.9 1057.9L1485.4 1059.2L1486.9 1060.4L1488.5 1061.6L1490.1 1062.8L1491.8 1063.9L1493.5 1064.9L1495.2 1065.9L1497 1066.9L1498.8 1067.9L1500.6 1068.8L1502.4 1069.6L1504.3 1070.5L1506.1 1071.3L1508 1072.1L1509.9 1072.8L1511.8 1073.5L1513.7 1074.3L1515.6 1074.9L1517.5 1075.6L1519.4 1076.2L1521.3 1076.9L1523.2 1077.5L1525.2 1078.1L1527.1 1078.6L1529 1079.2L1531 1079.7L1532.9 1080.2L1534.8 1080.7L1536.8 1081.2L1538.7 1081.7L1540.7 1082.1L1542.6 1082.6L1544.6 1083L1546.5 1083.4L1548.5 1083.8L1550.5 1084.2L1552.4 1084.6L1554.4 1085L1556.4 1085.3L1558.3 1085.7L1560.3 1086L1562.3 1086.4L1564.2 1086.7L1566.2 1087.1L1568.2 1087.4L1570.1 1087.7L1572.1 1088L1574.1 1088.4L1576.1 1088.7L1578 1089L1580 1089.2L1582 1089.5L1584 1089.8L1586 1090.1L1587.9 1090.4L1589.9 1090.6L1591.9 1090.9L1593.9 1091.1L1595.9 1091.4L1597.8 1091.6L1599.8 1091.8L1601.8 1092.1L1603.8 1092.3L1605.8 1092.5L1607.8 1092.7L1609.8 1092.9L1611.7 1093.2L1613.7 1093.4L1615.7 1093.5L1617.7 1093.7L1619.7 1093.9L1621.7 1094.1L1623.7 1094.3L1625.7 1094.5L1627.7 1094.6L1629.7 1094.8L1631.7 1094.9L1633.7 1095.1L1635.7 1095.2L1637.6 1095.4L1639.6 1095.5L1641.6 1095.7L1643.6 1095.8L1645.6 1095.9L1647.6 1096.1L1649.6 1096.2L1651.6 1096.3L1653.6 1096.4L1655.6 1096.5L1657.6 1096.6L1659.6 1096.7L1661.6 1096.8L1663.6 1096.9L1665.6 1097L1667.6 1097.1L1669.6 1097.2L1671.6 1097.3L1673.6 1097.4L1675.6 1097.5L1677.6 1097.5L1679.6 1097.6L1681.6 1097.7L1683.6 1097.7L1685.6 1097.8L1687.7 1097.9L1689.7 1097.9L1691.7 1098L1693.7 1098L1695.7 1098.1L1697.7 1098.1L1699.7 1098.2L1701.7 1098.2L1703.7 1098.3L1705.7 1098.3L1707.7 1098.4L1709.7 1098.4L1711.7 1098.4L1713.7 1098.5L1715.7 1098.5L1717.7 1098.5L1719.7 1098.6L1721.7 1098.6L1723.7 1098.6L1725.7 1098.6L1727.7 1098.7L1729.7 1098.7L1731.7 1098.7L1733.8 1098.7L1735.8 1098.7L1737.8 1098.7L1739.8 1098.8L1741.8 1098.8L1743.8 1098.8L1745.8 1098.8L1747.8 1098.8L1749.8 1098.8L1751.8 1098.8L1753.8 1098.8L1755.8 1098.9L1757.8 1098.9L1759.8 1098.9L1761.8 1098.9L1763.8 1098.9L1765.8 1098.9L1767.8 1098.9L1769.8 1098.9L1771.8 1098.9L1773.8 1098.9L1775.8 1098.9L1777.8 1098.9L1779.8 1098.9L1781.8 1098.9L1783.8 1098.9L1785.8 1098.8L1787.8 1098.8L1789.8 1098.8L1791.8 1098.8L1793.8 1098.8L1795.8 1098.8L1797.8 1098.8L1799.8 1098.8L1801.8 1098.8L1803.8 1098.8L1805.8 1098.7L1807.8 1098.7L1809.9 1098.7L1811.9 1098.7L1813.9 1098.7L1815.9 1098.7L1817.9 1098.7L1819.9 1098.6L1821.9 1098.6L1823.9 1098.6L1825.9 1098.6L1827.9 1098.6L1829.9 1098.5L1831.9 1098.5L1833.9 1098.5L1835.9 1098.5L1837.9 1098.5L1839.9 1098.4L1841.9 1098.4L1843.9 1098.4L1845.9 1098.4L1847.9 1098.3L1849.9 1098.3L1851.9 1098.3L1853.9 1098.3L1855.9 1098.2L1857.9 1098.2L1859.9 1098.2L1861.9 1098.2L1863.9 1098.1L1865.9 1098.1L1867.9 1098.1L1869.9 1098L1871.9 1098L1873.9 1098L1875.9 1098L1877.9 1097.9L1879.9 1097.9L1881.9 1097.9L1883.9 1097.9L1885.9 1097.8L1887.9 1097.8L1889.9 1097.8L1891.9 1097.7L1893.9 1097.7L1895.9 1097.7L1897.9 1097.6L1899.9 1097.6L1901.9 1097.6L1903.9 1097.6L1905.9 1097.5L1907.9 1097.5L1909.9 1097.5L1911.9 1097.4L1913.9 1097.4L1916 1097.4L1918 1097.3L1920 1097.3L1922 1097.3L1924 1097.3L1926 1097.2L1928 1097.2L1930 1097.2L1932 1097.1L1934 1097.1L1936 1097.1L1938 1097.1L1940 1097L1942 1097.0" stroke="#0000ff"/>
</g>
<text transform="translate(1053.3 1186.2) scale(1 1.04)" font-size="25.3" text-anchor="middle">300</text>
<text transform="translate(1142.2 1186.2) scale(1 1.04)" font-size="25.3" text-anchor="middle">320</text>
<text transform="translate(1231.0 1186.2) scale(1 1.04)" font-size="25.3" text-anchor="middle">340</text>
<text transform="translate(1319.9 1186.2) scale(1 1.04)" font-size="25.3" text-anchor="middle">360</text>
<text transform="translate(1408.8 1186.2) scale(1 1.04)" font-size="25.3" text-anchor="middle">380</text>
<text transform="translate(1497.7 1186.2) scale(1 1.04)" font-size="25.3" text-anchor="middle">400</text>
<text transform="translate(1586.5 1186.2) scale(1 1.04)" font-size="25.3" text-anchor="middle">420</text>
<text transform="translate(1675.4 1186.2) scale(1 1.04)" font-size="25.3" text-anchor="middle">440</text>
<text transform="translate(1764.3 1186.2) scale(1 1.04)" font-size="25.3" text-anchor="middle">460</text>
<text transform="translate(1853.1 1186.2) scale(1 1.04)" font-size="25.3" text-anchor="middle">480</text>
<text transform="translate(1942.0 1186.2) scale(1 1.04)" font-size="25.3" text-anchor="middle">500</text>
<text class="b" transform="translate(1289 1105.6) scale(1 1.04)" font-size="35">λ=395 nm</text>
<text class="b" transform="translate(1497 1246.5)" font-size="35" text-anchor="middle">Wavelenght (nm)</text>
<text class="b" transform="translate(1018.6 824.5) rotate(-90)" font-size="35" text-anchor="middle">Absorbance (a.u.)</text>
<g fill="none">
<path d="M1342.7 543.6L1489.0 1178.9" stroke="#000" stroke-opacity="0.5" stroke-width="4.0"/>
<path d="M1370.3 512.9L1478.5 1178.3" stroke="#0000ff" stroke-opacity="0.5" stroke-width="3.7"/>
</g>
</svg>
</body></html>
